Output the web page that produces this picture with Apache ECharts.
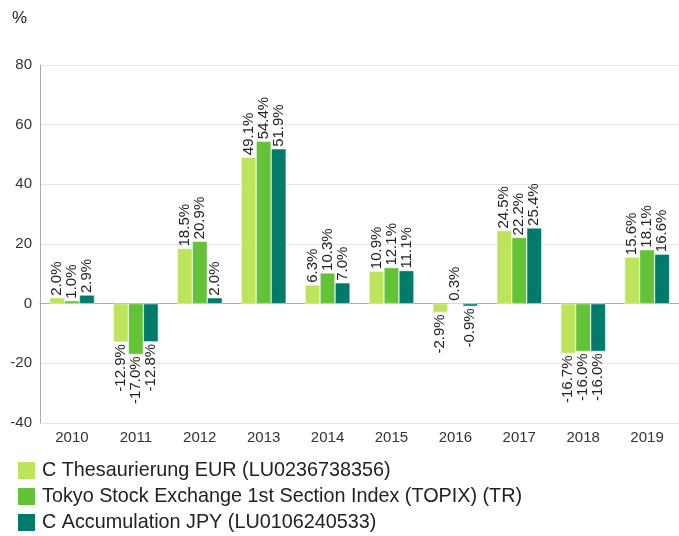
<!DOCTYPE html>
<html><head><meta charset="utf-8">
<script src="https://cdn.jsdelivr.net/npm/echarts@6/dist/echarts.min.js"></script>
<style>html,body{margin:0;padding:0;background:#fff}#c{width:679px;height:536px}</style>
</head><body><div id="c"></div>
<script>
const categories = ['2010','2011','2012','2013','2014','2015','2016','2017','2018','2019'];
const seriesNames = ['C Thesaurierung EUR (LU0236738356)','Tokyo Stock Exchange 1st Section Index (TOPIX) (TR)','C Accumulation JPY (LU0106240533)'];
const fundEUR = [2.0,-12.9,18.5,49.1,6.3,10.9,-2.9,24.5,-16.7,15.6];
const topix = [1.0,-17.0,20.9,54.4,10.3,12.1,0.3,22.2,-16.0,18.1];
const fundJPY = [2.9,-12.8,2.0,51.9,7.0,11.1,-0.9,25.4,-16.0,16.6];
const colors = ['#bce55c','#64c236','#007b6b'];

function mk(vals){
  return vals.map(v => ({
    value: v,
    label: v >= 0
      ? {position:'top', align:'left', verticalAlign:'middle', distance:2}
      : {position:'bottom', align:'right', verticalAlign:'middle', distance:2}
  }));
}
const allVals = [fundEUR, topix, fundJPY];
const chart = echarts.init(document.getElementById('c'));
chart.setOption({
  animation:false,
  textStyle:{fontFamily:'Liberation Sans, Arial, sans-serif'},
  grid:{left:40,right:0,top:65,bottom:113,containLabel:false},
  graphic:[{type:'text',left:12,top:10,style:{text:'%',fontSize:17,fill:'#222',fontFamily:'Liberation Sans, Arial, sans-serif'}}],
  legend:{
    orient:'vertical', left:16, top:460, itemWidth:19, itemHeight:19, itemGap:5,
    padding:0, height:80,
    icon:'rect',
    textStyle:{fontSize:19.8,color:'#222',padding:[0,0,0,1]},
    data: seriesNames
  },
  xAxis:{
    type:'category', data:categories,
    axisLine:{lineStyle:{color:'#aaa'}},
    axisTick:{show:false},
    axisLabel:{color:'#333',fontSize:15,margin:7}
  },
  yAxis:{
    type:'value', min:-40, max:80, interval:20,
    axisLine:{show:true,lineStyle:{color:'#aaa'}},
    axisLabel:{color:'#333',fontSize:15,margin:8},
    splitLine:{lineStyle:{color:'#e6e6e6'}}
  },
  series: seriesNames.map((n,i)=>({
    name:n, type:'bar', data:mk(allVals[i]),
    barWidth:15, barGap:'0%',
    itemStyle:{color:colors[i], borderColor:'#fff', borderWidth:0.5},
    label:{show:true, rotate:90, fontSize:15, color:'#222',
      formatter: p => p.value.toFixed(1)+'%'}
  }))
});
</script></body></html>
